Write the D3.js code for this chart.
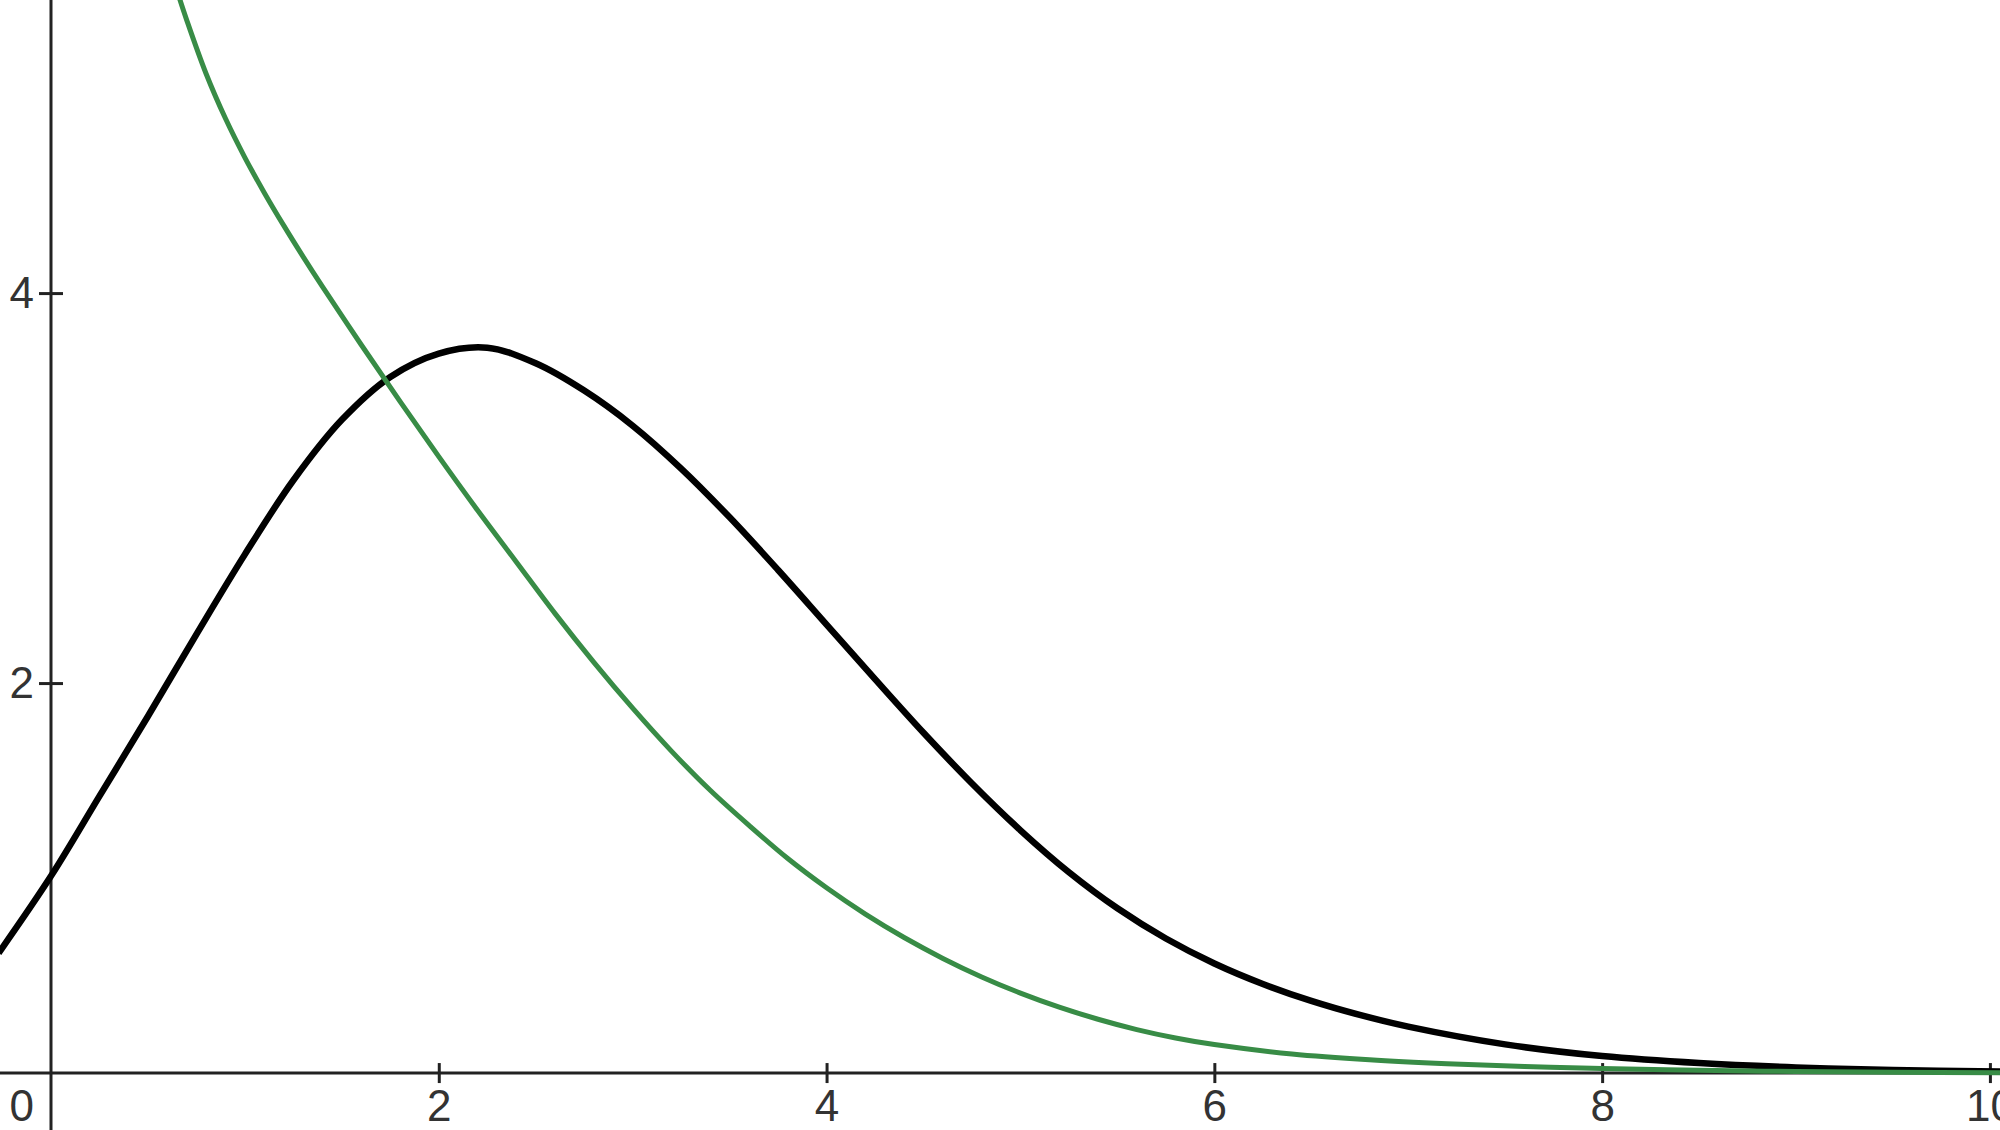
<!DOCTYPE html>
<html>
<head>
<meta charset="utf-8">
<script src="https://cdn.jsdelivr.net/npm/d3@7"></script>
<style>
  html, body { margin: 0; padding: 0; background: #fff; }
  svg { display: block; }
</style>
</head>
<body>
<script>
// ---- data ----
const blackX = [-0.27, 0.0, 0.25, 0.5, 0.75, 1.0, 1.25, 1.5, 1.75, 2.0, 2.25, 2.5, 2.75, 3.0, 3.25, 3.5, 3.75, 4.0, 4.25, 4.5, 4.75, 5.0, 5.25, 5.5, 5.75, 6.0, 6.25, 6.5, 6.75, 7.0, 7.5, 8.0, 8.5, 9.0, 9.5, 10.06];
const blackY = [0.615, 1.01, 1.42, 1.83, 2.25, 2.66, 3.04, 3.35, 3.57, 3.69, 3.72, 3.64, 3.50, 3.32, 3.10, 2.85, 2.58, 2.30, 2.02, 1.745, 1.485, 1.245, 1.03, 0.845, 0.69, 0.562, 0.457, 0.37, 0.298, 0.238, 0.147, 0.087, 0.051, 0.029, 0.016, 0.008];

const greenX = [0.66, 0.70, 0.80, 0.90, 1.0, 1.1, 1.2, 1.3, 1.4, 1.6, 1.8, 2.0, 2.2, 2.4, 2.6, 2.8, 3.0, 3.2, 3.4, 3.6, 3.8, 4.0, 4.2, 4.4, 4.6, 4.8, 5.0, 5.2, 5.4, 5.6, 5.8, 6.0, 6.4, 6.8, 7.2, 7.6, 8.0, 8.5, 9.0, 9.5, 10.06];
const greenY = [5.52, 5.40, 5.125, 4.895, 4.695, 4.515, 4.347, 4.187, 4.033, 3.735, 3.445, 3.161, 2.886, 2.621, 2.356, 2.106, 1.871, 1.651, 1.45, 1.27, 1.10, 0.95, 0.815, 0.695, 0.588, 0.493, 0.41, 0.338, 0.276, 0.223, 0.18, 0.146, 0.098, 0.068, 0.048, 0.034, 0.023, 0.014, 0.008, 0.004, 0.002];

const xTicks = [2, 4, 6, 8, 10];
const yTicks = [2, 4];
const originLabel = "0";

// ---- layout ----
const W = 2000, H = 1130;
const x = d3.scaleLinear().domain([-0.263, 10.052]).range([0, W]);
const y = d3.scaleLinear().domain([-0.292, 5.503]).range([H, 0]);

const svg = d3.select("body").append("svg").attr("width", W).attr("height", H);

const axisColor = "#222";
const labelColor = "#333";
const fontFamily = "Arial, 'Liberation Sans', sans-serif";
const fontSize = 44;

// axis lines
svg.append("line").attr("x1", 0).attr("x2", W).attr("y1", y(0)).attr("y2", y(0))
  .attr("stroke", axisColor).attr("stroke-width", 3);
svg.append("line").attr("x1", x(0)).attr("x2", x(0)).attr("y1", 0).attr("y2", H)
  .attr("stroke", axisColor).attr("stroke-width", 3);

// x axis ticks (crossing the axis)
const xAxis = d3.axisBottom(x).tickValues(xTicks).tickSize(20).tickPadding(7).tickFormat(d3.format("d"));
const gx = svg.append("g").attr("transform", `translate(0,${y(0) - 10})`).call(xAxis);
gx.select(".domain").remove();
gx.selectAll(".tick line").attr("stroke", axisColor).attr("stroke-width", 3);
gx.selectAll(".tick text").attr("fill", labelColor).attr("font-size", fontSize).attr("font-family", fontFamily);

// y axis ticks
const yAxis = d3.axisLeft(y).tickValues(yTicks).tickSize(24).tickPadding(5).tickFormat(d3.format("d"));
const gy = svg.append("g").attr("transform", `translate(${x(0) + 12},0)`).call(yAxis);
gy.select(".domain").remove();
gy.selectAll(".tick line").attr("stroke", axisColor).attr("stroke-width", 3);
gy.selectAll(".tick text").attr("fill", labelColor).attr("font-size", fontSize).attr("font-family", fontFamily);

// origin label
svg.append("text").text(originLabel)
  .attr("x", x(0) - 17).attr("y", y(0) + 17).attr("dy", "0.71em")
  .attr("text-anchor", "end").attr("fill", labelColor)
  .attr("font-size", fontSize).attr("font-family", fontFamily);

// curves
svg.append("clipPath").attr("id", "plotclip").append("rect")
  .attr("x", 0).attr("y", 0).attr("width", W).attr("height", H);

const line = d3.line().x(d => x(d[0])).y(d => y(d[1])).curve(d3.curveCatmullRom.alpha(0.5));

const blackData = blackX.map((v, i) => [v, blackY[i]]);
const greenData = greenX.map((v, i) => [v, greenY[i]]);

svg.append("path").datum(blackData).attr("d", line)
  .attr("fill", "none").attr("stroke", "#000").attr("stroke-width", 6.5)
  .attr("stroke-linejoin", "round").attr("clip-path", "url(#plotclip)");

svg.append("path").datum(greenData).attr("d", line)
  .attr("fill", "none").attr("stroke", "#388c46").attr("stroke-width", 5)
  .attr("stroke-linejoin", "round").attr("clip-path", "url(#plotclip)");
</script>
</body>
</html>
